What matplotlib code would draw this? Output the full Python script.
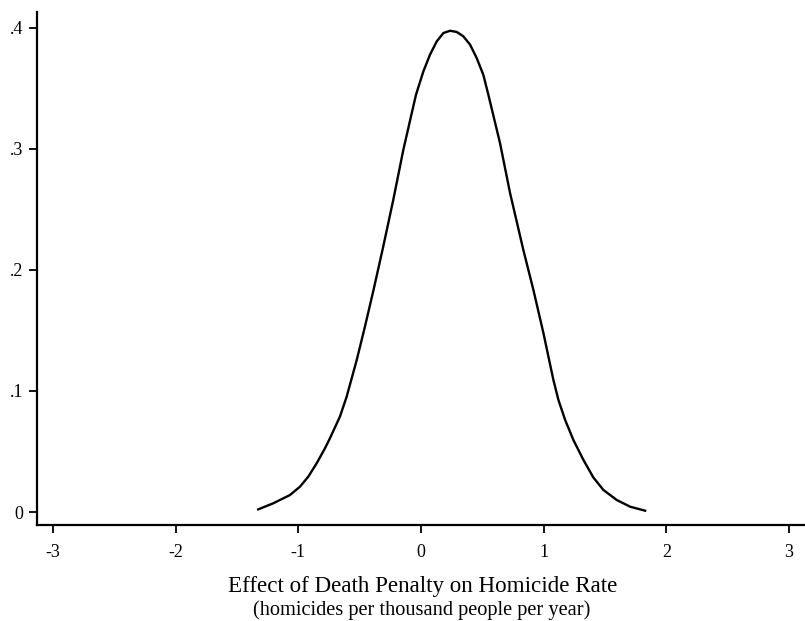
import matplotlib

matplotlib.use("Agg")
import matplotlib.pyplot as plt
from matplotlib.ticker import FixedLocator, FuncFormatter

# points
effect = [-1.327, -1.205, -1.069, -0.987, -0.919, -0.851, -0.783, -0.742,
          -0.661, -0.606, -0.524, -0.457, -0.389, -0.308, -0.226, -0.144,
          -0.063, -0.041, 0.019, 0.073, 0.128, 0.182, 0.237, 0.291, 0.345,
          0.400, 0.454, 0.508, 0.549, 0.644, 0.726, 0.834, 0.916, 0.998,
          1.079, 1.120, 1.175, 1.242, 1.324, 1.405, 1.487, 1.596, 1.705,
          1.827]
density = [0.0022, 0.0072, 0.0140, 0.0209, 0.0292, 0.0402, 0.0526, 0.0610,
           0.0788, 0.0953, 0.1256, 0.1532, 0.1826, 0.2192, 0.2579, 0.2992,
           0.3350, 0.3446, 0.3639, 0.3777, 0.3887, 0.3956, 0.3975, 0.3965,
           0.3929, 0.3860, 0.3749, 0.3611, 0.3446, 0.3047, 0.2634, 0.2165,
           0.1835, 0.1477, 0.1091, 0.0926, 0.0760, 0.0595, 0.0430, 0.0285,
           0.0182, 0.0099, 0.0044, 0.0011]

x_ticks = [-3, -2, -1, 0, 1, 2, 3]
y_ticks = [0, 0.1, 0.2, 0.3, 0.4]

title = "Effect of Death Penalty on Homicide Rate"
subtitle = "(homicides per thousand people per year)"

plt.rcParams["font.family"] = ["Liberation Serif", "DejaVu Serif"]

fig = plt.figure(figsize=(8.05, 6.21), dpi=100)
ax = fig.add_axes([0.046, 0.1546, 0.954, 0.8261])
ax.plot(effect, density, color="black", lw=1.7, solid_joinstyle="round")

ax.set_xlim(-3.13, 3.13)
ax.set_ylim(-0.0107, 0.413)
ax.spines["top"].set_visible(False)
ax.spines["right"].set_visible(False)
for side in ("left", "bottom"):
    ax.spines[side].set_linewidth(1.6)

ax.xaxis.set_major_locator(FixedLocator(x_ticks))
ax.yaxis.set_major_locator(FixedLocator(y_ticks))
ax.xaxis.set_major_formatter(FuncFormatter(lambda v, p: f"{v:g}"))
ax.yaxis.set_major_formatter(
    FuncFormatter(lambda v, p: "0" if v == 0 else f"{v:.1f}".lstrip("0")))
ax.tick_params(axis="both", direction="out", length=6, width=1.3,
               labelsize=13, color="black")
ax.tick_params(axis="x", pad=8)
ax.tick_params(axis="y", pad=4)

fig.text(0.525, 0.0548, title, ha="center", va="center", fontsize=16.6)
fig.text(0.5236, 0.0177, subtitle, ha="center", va="center", fontsize=14.7)

fig.savefig("out.png", dpi=100)
plt.close(fig)
